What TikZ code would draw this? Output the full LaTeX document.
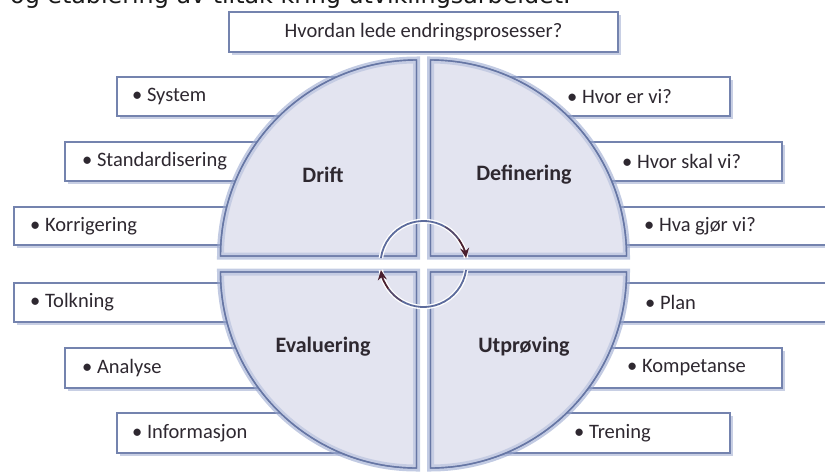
\documentclass[tikz,border=0pt]{standalone}
\usepackage{fontspec}
\setmainfont{Carlito}
\newfontfamily\dejavu{DejaVu Sans}
\usetikzlibrary{arrows.meta,shadows}
\definecolor{quadfill}{HTML}{E3E4F0}
\definecolor{quadedge}{HTML}{6676A4}
\definecolor{glowblue}{HTML}{9AA8D0}
\definecolor{boxedge}{HTML}{7483AE}
\definecolor{shadowblue}{HTML}{8595C4}
\definecolor{textcol}{HTML}{2E2830}
\definecolor{arcblue}{HTML}{5C6B9C}
\definecolor{arrowdark}{HTML}{4A1F2E}
\def\qdrift{(416.5,256) -- ++(-196,0) arc[start angle=180,end angle=270,radius=196] -- cycle}
\def\qdef{(430.5,256) -- ++(0,-196) arc[start angle=270,end angle=360,radius=196] -- cycle}
\def\qutp{(430.5,272) -- ++(196,0) arc[start angle=0,end angle=90,radius=196] -- cycle}
\def\qeval{(416.5,272) -- ++(0,196) arc[start angle=90,end angle=180,radius=196] -- cycle}
\begin{document}
\begin{tikzpicture}[x=1pt,y=-1pt,
  box/.style={draw=boxedge, line width=1.3pt, fill=white,
    drop shadow={shadow xshift=2.5pt, shadow yshift=-3pt, fill=shadowblue, opacity=0.45}},
  itemlabel/.style={font=\fontsize{20.5}{24}\selectfont, text=textcol, anchor=west, inner sep=0pt},
  quadlabel/.style={font=\bfseries\fontsize{22}{26}\selectfont, text=textcol, inner sep=0pt},
  quadglow/.style={draw=glowblue, line width=7pt, opacity=0.6},
  quadline/.style={draw=quadedge, line width=1.4pt, fill=quadfill}]
\useasboundingbox (0,0) rectangle (825,472);
\clip (0,0) rectangle (825,472);

% cropped page text at top
\node[anchor=base west, inner sep=0pt, font=\dejavu\fontsize{23.8}{28}\selectfont, text=black!90] (pagetext) at (10,3.5) {og etablering av tiltak kring utviklingsarbeidet.};

% top box
\draw[box] (229,12) rectangle (618,52);
\node[font=\fontsize{20.5}{24}\selectfont, text=textcol, inner sep=0pt] (title) at (423.5,32) {Hvordan lede endringsprosesser?};

% left boxes
\draw[box] (117,77) rectangle (410,116);
\draw[box] (65,142) rectangle (410,181);
\draw[box] (14,207) rectangle (410,245);
\draw[box] (14,283) rectangle (410,322);
\draw[box] (65,348) rectangle (410,388);
\draw[box] (117,413) rectangle (410,453);
% right boxes
\draw[box] (440,77) rectangle (730,116);
\draw[box] (440,142) rectangle (782,181);
\draw[box] (440,207) rectangle (832,245);
\draw[box] (440,283) rectangle (832,322);
\draw[box] (440,348) rectangle (782,388);
\draw[box] (440,413) rectangle (730,453);

% quadrants: outer glow
\foreach \q in {\qdrift,\qdef,\qutp,\qeval}{
  \draw[quadglow] \q;
}
\foreach \q in {\qdrift,\qdef,\qutp,\qeval}{
  \draw[quadline] \q;
  \begin{scope}
    \clip \q;
    \draw[draw=glowblue, line width=7pt, opacity=0.4] \q;
  \end{scope}
  \draw[draw=quadedge, line width=1.4pt] \q;
}

% item labels left
\node[itemlabel] (system) at (132,96.5) {• System};
\node[itemlabel] (standard) at (82,161.5) {• Standardisering};
\node[itemlabel] (korr) at (30,226) {• Korrigering};
\node[itemlabel] (tolk) at (30,302.5) {• Tolkning};
\node[itemlabel] (analyse) at (82,368) {• Analyse};
\node[itemlabel] (info) at (132,433) {• Informasjon};
% item labels right
\node[itemlabel] (hvorer) at (567,96.5) {• Hvor er vi?};
\node[itemlabel] (hvorskal) at (622,161.5) {• Hvor skal vi?};
\node[itemlabel] (hvagjor) at (644,226) {• Hva gjør vi?};
\node[itemlabel] (plan) at (645,302.5) {• Plan};
\node[itemlabel] (komp) at (627,368) {• Kompetanse};
\node[itemlabel] (trening) at (574,433) {• Trening};

% quadrant labels
\node[quadlabel] (drift) at (323,175) {Drift};
\node[quadlabel] (definering) at (524,175) {Definering};
\node[quadlabel] (evaluering) at (323,347) {Evaluering};
\node[quadlabel] (utproving) at (524,347) {Utprøving};

% central cycle arrows
\coordinate (c) at (423.5,264);
\draw[white, line width=4.5pt] ([shift={(-172:43)}]c) arc[start angle=-172,end angle=-8,radius=43];
\draw[white, line width=4.5pt] ([shift={(8:43)}]c) arc[start angle=8,end angle=172,radius=43];
\draw[arcblue, line width=1.8pt] ([shift={(-172:43)}]c) arc[start angle=-172,end angle=-60,radius=43];
\draw[arcblue!55!arrowdark, line width=1.8pt] ([shift={(-60:43)}]c) arc[start angle=-60,end angle=-35,radius=43];
\draw[arrowdark, line width=1.8pt, -{Stealth[length=10pt,width=9pt]}] ([shift={(-35:43)}]c) arc[start angle=-35,end angle=-8,radius=43];
\draw[arcblue, line width=1.8pt] ([shift={(8:43)}]c) arc[start angle=8,end angle=120,radius=43];
\draw[arcblue!55!arrowdark, line width=1.8pt] ([shift={(120:43)}]c) arc[start angle=120,end angle=145,radius=43];
\draw[arrowdark, line width=1.8pt, -{Stealth[length=10pt,width=9pt]}] ([shift={(145:43)}]c) arc[start angle=145,end angle=172,radius=43];
\end{tikzpicture}
\end{document}
